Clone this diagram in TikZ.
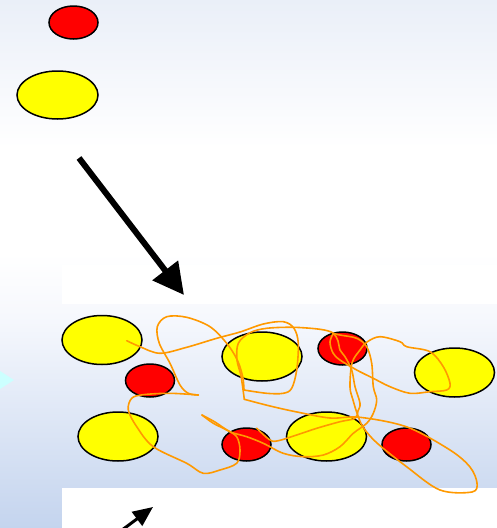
\documentclass[tikz,border=0pt]{standalone}
\usetikzlibrary{shapes.geometric,arrows.meta}
\definecolor{bgtop}{HTML}{EAEFF8}
\definecolor{bgbot}{HTML}{C4D4EE}
\definecolor{bgmid}{HTML}{F6F8FD}
\definecolor{scribble}{HTML}{FF9900}
\definecolor{pointer}{HTML}{CCFFFF}
\definecolor{blobyellow}{HTML}{FFFF00}
\definecolor{blobred}{HTML}{FF0000}
% the filled rectangle covers the band 25bp..75bp of this shading
\pgfdeclareverticalshading{backdrop}{100bp}{
  color(0bp)=(bgbot); color(25bp)=(bgbot); color(45bp)=(bgmid); color(51bp)=(white);
  color(61bp)=(white); color(75bp)=(bgtop); color(100bp)=(bgtop)}
\tikzset{
  blob/.style={ellipse, draw=black, line width=1.5pt, inner sep=0pt},
  bigblob/.style={blob, fill=blobyellow, minimum width=80pt, minimum height=49pt},
  smallblob/.style={blob, fill=blobred, minimum width=49pt, minimum height=33pt},
  band/.style={fill=white, draw=none},
  trace/.style={draw=scribble, line width=1.6pt, line join=round, line cap=round},
}
\begin{document}
\begin{tikzpicture}[x=1pt,y=-1pt]
\useasboundingbox (0,0) rectangle (497,528);
\clip (0,0) rectangle (497,528);
% backdrop
\shade[shading=backdrop] (0,0) rectangle (497,528);
\fill[band] (62,265) rectangle (497,304);
\fill[band] (62,488) rectangle (497,528);
\fill[pointer] (0,371) -- (14,380) -- (0,389) -- cycle;

% legend
\node[smallblob] (r0) at (73.5,22.5) {};
\node[bigblob, minimum width=81pt, minimum height=48pt] (y0) at (57.5,95) {};

% mixture
\node[bigblob]   (y1) at (102,340) {};
\node[smallblob] (r1) at (150,380.5) {};
\node[bigblob]   (y2) at (118,436.5) {};
\node[bigblob]   (y3) at (262,356.5) {};
\node[smallblob] (r2) at (342.5,348.5) {};
\node[bigblob]   (y4) at (454.5,372.5) {};
\node[smallblob] (r3) at (246.5,444.5) {};
\node[bigblob]   (y5) at (326.5,436.5) {};
\node[smallblob] (r4) at (406.5,444.5) {};

% arrows
\coordinate (a1) at (79,158);
\coordinate (a2) at (184,295);
\draw[line width=6pt, -{Triangle[length=31pt,width=31pt]}] (a1) -- (a2);
\coordinate (b1) at (118,533);
\coordinate (b2) at (153,507);
\draw[line width=3pt, -{Triangle[length=20pt,width=17pt]}] (b1) -- (b2);

% freehand path through the mixture
\draw[trace] plot[smooth, tension=0.55] coordinates {
  (126.7,340.7) (140,346.7) (160,353.3) (186.7,347.3) (216.7,338.3) (240,332)
  (263.3,324) (283.3,321.7) (294,328.3) (298.3,343.3) (296.7,370) (291.7,388.3)
  (283.3,393.3) (266.7,393.3) (244,390)};
\draw[trace] plot[smooth, tension=0.55] coordinates {
  (244,390) (242.7,376.7) (237.3,360) (226.7,343.3) (210,326.7) (186.7,317.3)
  (166.7,316.7) (157.3,326.7) (159.3,343.3) (170,363.3) (180,385) (188.3,393.3)
  (198.3,395)};
\draw[trace] plot[smooth, tension=0.55] coordinates {
  (198.3,395) (170,393.3) (143.3,394.7) (131.7,398.3) (128.3,410) (136.7,426.7)
  (153.3,446.7) (186.7,463.3) (203.3,473.3) (220,470) (236.7,463.3) (240,450)
  (236.7,436.7) (226.7,430) (213.3,423.3) (202,415)};
\draw[trace] plot[smooth, tension=0.55] coordinates {
  (202,415) (215,422) (230,431.7) (246.7,436.7) (263.3,443.3) (283.3,453.3)
  (303.3,456.7) (323.3,455) (340,446.7) (353.3,433.3) (366.7,423.3) (373.3,413.3)
  (376.7,400) (373.3,386.7) (371.7,363.3) (366.7,346.7) (356.7,338.3) (340,335)
  (333.3,333.3)};
\draw[trace] plot[smooth, tension=0.55] coordinates {
  (333.3,333.3) (330,342) (333,353) (340,360) (356.7,370) (373.3,378.3)
  (390,386.7) (410,393.3) (430,391.7) (446.7,390) (450,383.3) (443.3,366.7)
  (430,351.7) (406.7,346.7) (400,341.7) (380,336.7) (367,342) (360,350)
  (352,363) (350,387) (353,400) (357,413) (363,427) (377,443) (407,467)
  (440,490) (472,492) (477,483) (470,467) (450,450) (407,427) (360,417.3)
  (330,418) (297,412) (270,406) (244.3,399.3)};
\draw[trace] plot[smooth, tension=0.55] coordinates {
  (244.3,399.3) (241,376) (237,360) (238.3,343.3) (250,332.7) (266.7,328.3)
  (293.3,327.3) (320,329.3) (333,333) (338,341) (340,350) (345,356.7)
  (351.7,370) (355,386.7) (360,403.3) (358,411) (355,418.3) (340,421.7)
  (316.7,428.3) (296.7,435) (278.3,440.7) (270,440) (256.7,428.3)};
\end{tikzpicture}
\end{document}
